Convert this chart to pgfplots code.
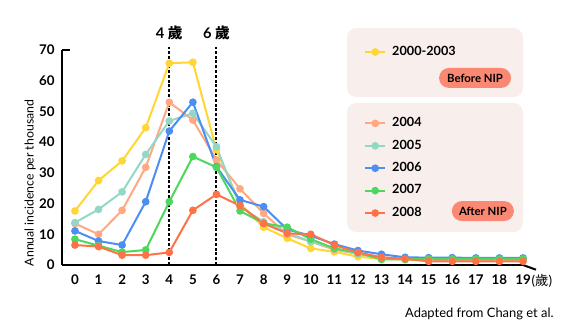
\documentclass[border=0pt]{standalone}
\usepackage{pgfplots}
\pgfplotsset{compat=1.18}
\usepackage{fontspec}
\setmainfont{Lato}
\newfontfamily\cjk{Noto Sans CJK TC}
\definecolor{cY}{HTML}{FFD633}
\definecolor{cS}{HTML}{FFA882}
\definecolor{cT}{HTML}{93D8C6}
\definecolor{cB}{HTML}{4D8EF5}
\definecolor{cG}{HTML}{4CD85C}
\definecolor{cR}{HTML}{FF7248}
\definecolor{boxc}{HTML}{F8EFED}
\definecolor{badge}{HTML}{FA8872}
\begin{document}
\begin{tikzpicture}
\useasboundingbox (-46.5pt,-50.25pt) rectangle (383.25pt,198.75pt);
\begin{axis}[
  scale only axis, width=345.75pt, height=161.25pt,
  xmin=-0.55, xmax=19, ymin=0, ymax=70,
  axis lines=left,
  axis line style={-, line width=1.5pt, black},
  xtick={0,...,19}, ytick={0,10,...,70},
  major tick length=0pt,
  clip=false,
  /pgf/number format/assume math mode=true,
  ticklabel style={font=\bfseries\fontsize{10}{12}\selectfont},
  yticklabel style={xshift=-2pt},
  xticklabel style={yshift=-3.5pt},
  every axis plot/.append style={line width=1.5pt, mark=*, mark size=2.1pt},
  legend image code/.code={\draw[mark repeat=2,mark phase=2] plot coordinates {(0pt,0pt)(7.5pt,0pt)(15pt,0pt)};},
  legend style={at={(rel axis cs:0.655,1.02)}, anchor=north west, draw=none, fill=none, inner sep=0pt,
    row sep=7.8pt, column sep=4.5pt,
    nodes={inner sep=0pt, text height=7pt, text depth=2pt, font=\bfseries\fontsize{9.5}{11}\selectfont}},
  legend cell align=left,
]
% background boxes
\fill[boxc, rounded corners=7pt] (rel axis cs:0.618,0.781) rectangle (rel axis cs:1.0,1.102);
\fill[boxc, rounded corners=7pt] (rel axis cs:0.618,0.1535) rectangle (rel axis cs:1.0,0.7535);
\node[fill=badge, rounded corners=7.5pt, minimum width=54pt, minimum height=15pt, inner sep=0pt,
  font=\fontsize{8.5}{10}\selectfont\bfseries] at (rel axis cs:0.896,0.870) {Before NIP};
\node[fill=badge, rounded corners=7.5pt, minimum width=46.5pt, minimum height=15pt, inner sep=0pt,
  font=\fontsize{8.5}{10}\selectfont\bfseries] at (rel axis cs:0.913,0.251) {After NIP};
% dashed lines
\draw[black, line width=1.5pt, dash pattern=on 2.2pt off 1.4pt] (axis cs:4,0) -- (axis cs:4,71);
\draw[black, line width=1.5pt, dash pattern=on 2.2pt off 1.4pt] (axis cs:6,0) -- (axis cs:6,71);
\node[font=\bfseries\fontsize{11}{13}\selectfont] at (axis cs:4,75.5) {4 {\cjk\bfseries 歲}};
\node[font=\bfseries\fontsize{11}{13}\selectfont] at (axis cs:6,75.5) {6 {\cjk\bfseries 歲}};
\node[anchor=north, inner sep=0pt, yshift=-6.5pt, font=\fontsize{10}{12}\selectfont] at (axis cs:19.8,0) {({\cjk 歲})};
\node[rotate=90, font=\fontsize{9.2}{11}\selectfont] at (axis cs:-1.9,26.7) {Annual incidence per thousand};
\node[anchor=east, font=\fontsize{9.7}{11}\selectfont] at (axis cs:20.5,-16) {Adapted from Chang et al.};
% end ticks
\draw[line width=1.5pt] (rel axis cs:0,1) -- ++(-3.5pt,0);
\draw[line width=1.5pt] (rel axis cs:1,0) -- ++(0,-3.5pt);

\addplot[cY, mark options={fill=cY}] coordinates {(0,17.6)(1,27.5)(2,33.9)(3,44.7)(4,65.7)(5,66.0)(6,37.5)(7,20)(8,12.3)(9,8.7)(10,5.4)(11,4.3)(12,2.7)(13,2.0)(14,1.8)(15,1.5)(16,1.5)(17,1.5)(18,1.5)(19,1.5)};
\addlegendentry{2000-2003}
\addlegendimage{empty legend}\addlegendentry[text depth=3.6pt]{}
\addlegendimage{empty legend}\addlegendentry[text depth=3.6pt]{}
\addplot[cS, mark options={fill=cS}] coordinates {(0,13.5)(1,10.0)(2,17.8)(3,31.8)(4,53.0)(5,47.2)(6,34.2)(7,24.8)(8,16.8)(9,10.0)(10,7.6)(11,5.0)(12,3.6)(13,2.2)(14,2.0)(15,1.5)(16,1.5)(17,1.5)(18,1.5)(19,1.5)};
\addlegendentry{2004}
\addplot[cT, mark options={fill=cT}] coordinates {(0,13.8)(1,18.1)(2,23.8)(3,36.0)(4,46.9)(5,49.4)(6,38.5)(7,19.0)(8,14.1)(9,10.5)(10,7.6)(11,5.5)(12,3.6)(13,2.5)(14,2.0)(15,1.8)(16,1.8)(17,1.8)(18,1.8)(19,1.8)};
\addlegendentry{2005}
\addplot[cB, mark options={fill=cB}] coordinates {(0,11.1)(1,7.8)(2,6.5)(3,20.6)(4,43.6)(5,53.0)(6,32.0)(7,21.2)(8,19.0)(9,11.6)(10,9.5)(11,6.8)(12,4.7)(13,3.5)(14,2.5)(15,2.4)(16,2.4)(17,2.3)(18,2.3)(19,2.3)};
\addlegendentry{2006}
\addplot[cG, mark options={fill=cG}] coordinates {(0,8.4)(1,6.3)(2,4.2)(3,4.9)(4,20.6)(5,35.3)(6,31.8)(7,17.6)(8,13.6)(9,12.3)(10,8.4)(11,5.4)(12,4.0)(13,1.8)(14,1.8)(15,2.0)(16,2.0)(17,2.0)(18,2.0)(19,2.0)};
\addlegendentry{2007}
\addplot[cR, mark options={fill=cR}] coordinates {(0,6.5)(1,6.0)(2,3.2)(3,3.2)(4,4.1)(5,17.8)(6,23.0)(7,19.3)(8,13.5)(9,10.3)(10,10.0)(11,6.5)(12,4.1)(13,2.5)(14,2.0)(15,1.2)(16,1.2)(17,1.2)(18,1.2)(19,1.2)};
\addlegendentry{2008}
\end{axis}
\end{tikzpicture}
\end{document}
